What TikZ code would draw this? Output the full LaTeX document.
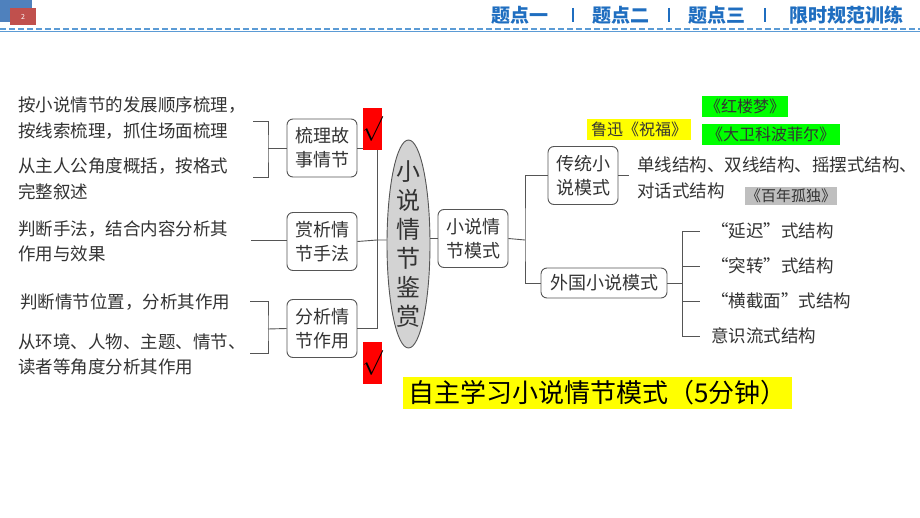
\documentclass[tikz,border=0pt]{standalone}
\usepackage{fontspec}
\setmainfont{Noto Sans CJK SC}
\usetikzlibrary{positioning,shapes.geometric}

\definecolor{hdrblue}{HTML}{1F6EC0}
\definecolor{dashblue}{HTML}{5B9BD5}
\definecolor{sqblue}{HTML}{4F81BD}
\definecolor{sqred}{HTML}{C0504D}
\definecolor{linegray}{HTML}{555555}
\definecolor{txtgray}{HTML}{333333}
\definecolor{ellgray}{HTML}{D3D3D3}
\definecolor{hlyellow}{HTML}{FFFF00}
\definecolor{hlgreen}{HTML}{00FF00}
\definecolor{hlgray}{HTML}{BFBFBF}

\tikzset{
  box/.style={draw=linegray, line width=0.9pt, rounded corners=6pt, fill=white,
    minimum width=70pt, minimum height=58pt, inner sep=2pt, align=center,
    font=\fontsize{18}{24}\selectfont, text=txtgray},
  conn/.style={draw=linegray, line width=0.9pt},
  lefttxt/.style={anchor=west, align=left, inner sep=0pt,
    font=\fontsize{17.5}{25.5}\selectfont, text=txtgray},
  righttxt/.style={anchor=west, align=left, inner sep=0pt,
    font=\fontsize{17.5}{26}\selectfont, text=txtgray},
  hl/.style={inner sep=0pt, font=\fontsize{16}{16}\selectfont, text=txtgray},
  chkbox/.style={fill=red, minimum width=19pt, minimum height=42pt, inner sep=0pt},
  hdr/.style={font=\fontsize{19}{19}\selectfont\bfseries, text=hdrblue, inner sep=0pt},
}

\begin{document}
\begin{tikzpicture}[x=1pt,y=-1pt]
    \useasboundingbox[fill=white] (0,0) rectangle (920,518);

    % header
    \fill[sqblue] (0,0) rectangle (32,22);
    \fill[sqred] (10,8) rectangle (36,25);
    \node[text=white, font=\fontsize{7}{7}\selectfont, inner sep=0pt] (pagenum) at (23,16.5) {2};
    \draw[dashblue, line width=1.6pt, dash pattern=on 6pt off 3pt] (0,29) -- (920,29);
    \draw[dashblue, line width=0.6pt] (0,31.5) -- (920,31.5);
    \node[hdr] (tab1) at (520,15) {题点一};
    \node[hdr] (tab2) at (620.5,15) {题点二};
    \node[hdr] (tab3) at (716.5,15) {题点三};
    \node[hdr] (tab4) at (846.5,15) {限时规范训练};
    \foreach \x in {573,669,765}
        \draw[hdrblue, line width=1.2pt] (\x,8) -- (\x,22);

    % left column
    \node[lefttxt] (t1a) at (18,118) {按小说情节的发展顺序梳理，\\按线索梳理，抓住场面梳理};
    \node[lefttxt] (t1b) at (18,179) {从主人公角度概括，按格式\\完整叙述};
    \node[lefttxt] (t2) at (18,241.5) {判断手法，结合内容分析其\\作用与效果};
    \node[lefttxt] (t3a) at (20,302) {判断情节位置，分析其作用};
    \node[lefttxt] (t3b) at (18,354.5) {从环境、人物、主题、情节、\\读者等角度分析其作用};

    \node[box] (shuli) at (322,148) {梳理故\\事情节};
    \node[box] (shangxi) at (322,241.5) {赏析情\\节手法};
    \node[box] (fenxi) at (322,328.5) {分析情\\节作用};

    \coordinate (b1a) at (253,121);
    \coordinate (b1b) at (253,177);
    \coordinate (b1j) at (268,148);
    \draw[conn] (b1a) -| (b1j) |- (b1b);
    \draw[conn] (b1j) -- (shuli.west);
    \coordinate (b2a) at (251,240);
    \draw[conn] (b2a) -- (b2a -| shangxi.west);
    \coordinate (b3a) at (250,301);
    \coordinate (b3b) at (250,353);
    \coordinate (b3j) at (268,329);
    \draw[conn] (b3a) -| (b3j) |- (b3b);
    \draw[conn] (b3j) -- (fenxi.west);

    % centre
    \node[ellipse, draw=linegray, line width=0.9pt, fill=ellgray, minimum width=43pt,
        minimum height=208pt, inner sep=0pt] (jianshang) at (408.5,244) {};
    \node[align=center, inner sep=0pt, text=txtgray, font=\fontsize{24}{29}\selectfont]
        (jstxt) at (jianshang.center) {小\\说\\情\\节\\鉴\\赏};
    \coordinate (vj) at (377,240);
    \draw[conn] (shuli.east) -| (vj);
    \draw[conn] (fenxi.east) -| (vj);
    \draw[conn] (shangxi.east) -- (vj) -- (vj -| jianshang.west);

    \node[chkbox] (chk1) at (372.5,129) {};
    \node[inner sep=0pt] (chk1s) at (chk1.center) {\fontsize{30}{30}\selectfont$\surd$};
    \node[chkbox] (chk2) at (372.5,362.5) {};
    \node[inner sep=0pt] (chk2s) at (chk2.center) {\fontsize{30}{30}\selectfont$\surd$};

    % right side
    \node[box] (moshi) at (473,238.5) {小说情\\节模式};
    \draw[conn] (moshi.west) -- (moshi.west -| jianshang.east);
    \node[box] (chuantong) at (583,175.5) {传统小\\说模式};
    \node[box, minimum width=126pt, minimum height=30pt] (waiguo) at (604,283) {外国小说模式};
    \coordinate (mj) at (525,240);
    \draw[conn] (moshi.east) -- (mj);
    \draw[conn] (chuantong.west) -| (mj) |- (waiguo.west);

    \coordinate (ctend) at (629,175.5);
    \draw[conn] (chuantong.east) -- (ctend);
    \node[righttxt] (ct) at (637,178) {单线结构、双线结构、摇摆式结构、\\对话式结构};

    \coordinate (wj) at (682,283);
    \draw[conn] (waiguo.east) -- (wj);
    \foreach \i/\y/\t in {1/231/{“延迟”式结构}, 2/266/{“突转”式结构},
                          3/301/{“横截面”式结构}, 4/336/{意识流式结构}} {
        \coordinate (we\i) at (700,\y);
        \draw[conn] (wj) |- (we\i);
        \node[righttxt, right=11pt of we\i] (w\i) {\t};
    }

    % highlighted titles
    \node[hl, fill=hlyellow, minimum width=104pt, minimum height=21pt] (luxun) at (639,129.5) {鲁迅《祝福》};
    \node[hl, fill=hlgreen, minimum width=86pt, minimum height=21pt] (hongloumeng) at (745,106.5) {《红楼梦》};
    \node[hl, fill=hlgreen, minimum width=138pt, minimum height=21pt] (dawei) at (771,134.5) {《大卫科波菲尔》};
    \node[hl, fill=hlgray, minimum width=92pt, minimum height=18pt, font=\fontsize{15}{15}\selectfont] (bainian) at (791,196) {《百年孤独》};

    \node[fill=hlyellow, minimum width=389pt, minimum height=32pt, inner sep=0pt,
        font=\fontsize{26}{26}\selectfont] (zizhu) at (597.5,393) {自主学习小说情节模式（5分钟）};
\end{tikzpicture}
\end{document}
